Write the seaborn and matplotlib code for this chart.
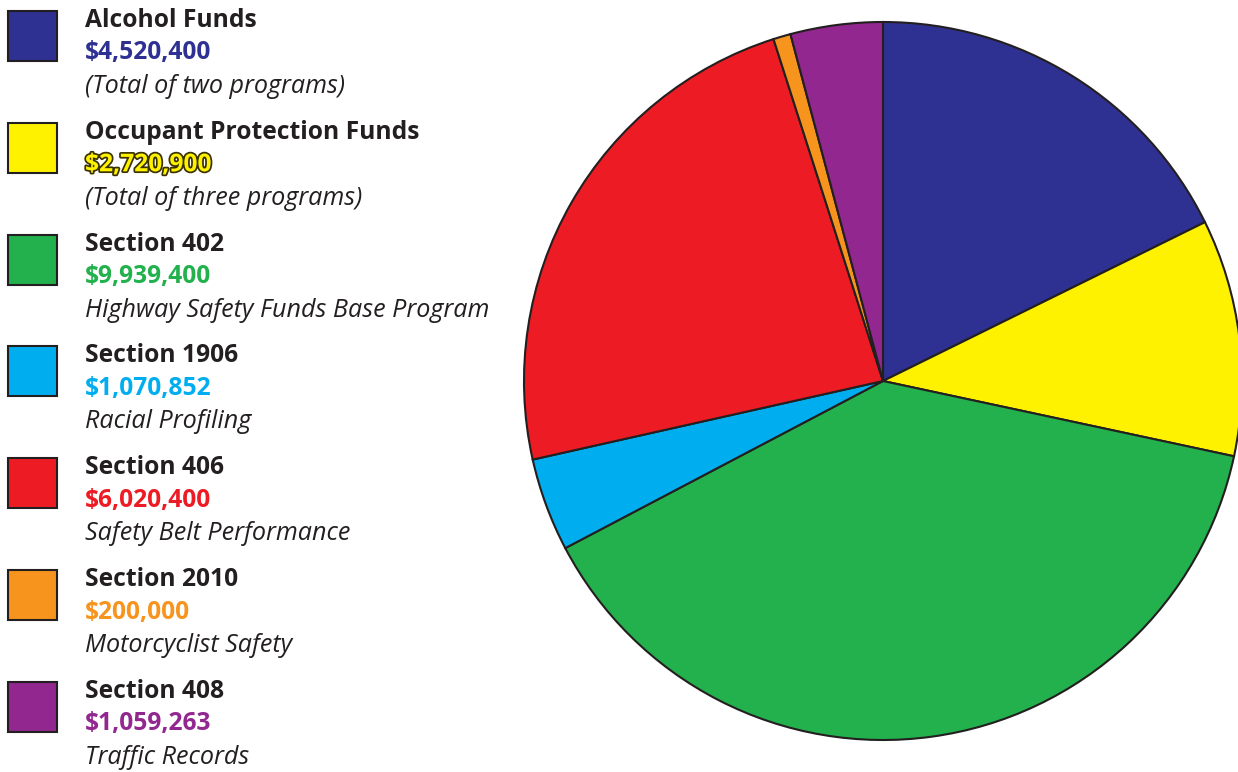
import matplotlib
matplotlib.use("Agg")
import matplotlib.pyplot as plt
import matplotlib.patheffects as pe
from matplotlib.patches import Rectangle
import seaborn as sns

# Funding sources and amounts (US dollars)
titles = ["Alcohol Funds", "Occupant Protection Funds", "Section 402", "Section 1906",
          "Section 406", "Section 2010", "Section 408"]
amounts = [4520400, 2720900, 9939400, 1070852, 6020400, 200000, 1059263]
notes = ["(Total of two programs)", "(Total of three programs)",
         "Highway Safety Funds Base Program", "Racial Profiling",
         "Safety Belt Performance", "Motorcyclist Safety", "Traffic Records"]
colors = ["#2E3192", "#FFF200", "#22B14C", "#00AEEF", "#ED1C24", "#F7941D", "#92278F"]

sns.set_style("white")
plt.rcParams["font.family"] = ["Open Sans", "DejaVu Sans"]
palette = sns.color_palette(colors)

W, H = 1238, 772
fig = plt.figure(figsize=(W / 100, H / 100), dpi=100)
fig.patch.set_facecolor("white")

# Pie, starting at 12 o'clock and running clockwise
cx, cy, r = 883, 381, 359
ax = fig.add_axes([(cx - r) / W, (H - cy - r) / H, 2 * r / W, 2 * r / H])
ax.pie(amounts, colors=palette, startangle=90, counterclock=False, radius=1,
       wedgeprops=dict(edgecolor="#231F20", linewidth=1.5))
ax.set_xlim(-1, 1)
ax.set_ylim(-1, 1)
ax.set_aspect("equal")
ax.axis("off")

# Legend column with swatches and three text lines per entry
step = 111.8
edge = "#231F20"
for i, (t, a, n, c) in enumerate(zip(titles, amounts, notes, colors)):
    top = 11 + step * i
    fig.patches.append(Rectangle((8 / W, 1 - (top + 50) / H), 49 / W, 50 / H,
                                 transform=fig.transFigure, facecolor=c,
                                 edgecolor=edge, linewidth=1.5))
    b = 27 + step * i
    fig.text(85 / W, 1 - b / H, t, fontsize=17.7, fontweight="bold",
             color="#231F20", va="baseline", ha="left")
    val = fig.text(85 / W, 1 - (b + 32.5) / H, f"${a:,}", fontsize=17.7,
                   fontweight="bold", color=c, va="baseline", ha="left")
    if c == "#FFF200":
        val.set_path_effects([pe.withStroke(linewidth=2.5, foreground="#3a3200")])
    fig.text(85 / W, 1 - (b + 66) / H, n, fontsize=18.1, fontstyle="italic",
             color="#231F20", va="baseline", ha="left")

fig.savefig("out.png", dpi=100, facecolor="white")
